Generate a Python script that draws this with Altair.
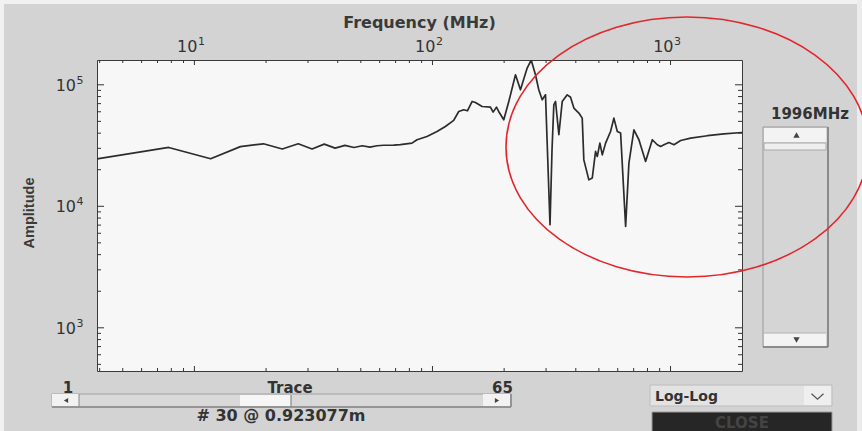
import altair as alt
import pandas as pd

# ---- spectrum of trace #30 (frequency in MHz, amplitude) ----
freq_mhz = [3.898, 7.8, 11.7, 15.6, 19.5, 23.4, 27.3, 31.2, 35.1, 39.0, 42.9, 46.8,
            50.7, 54.6, 58.5, 62.4, 68.7, 73.3, 82.0, 86.1, 94.8, 104.5, 113.3, 122.8,
            128.9, 135.3, 140.2, 146.8, 151.5, 161.7, 175.2, 179.8, 185.7, 189.7, 199.3,
            209.2, 223.2, 234.2, 249.9, 259.8, 270.8, 279.6, 289.0, 298.4, 311.7, 317.8,
            323.4, 328.8, 339.5, 350.8, 368.1, 380.2, 392.6, 412.1, 425.6, 432.3, 453.8,
            469.0, 484.2, 492.3, 504.9, 516.8, 533.6, 559.8, 578.1, 597.5, 617.0, 647.6,
            668.6, 701.7, 736.5, 785.7, 838.4, 880.0, 908.6, 938.1, 984.6, 1033.5,
            1102.7, 1214.6, 1427.9, 1677.2, 1996.0]
amplitude = [24600, 30500, 24600, 31000, 32700, 29600, 32700, 29600, 32500, 30100,
             31700, 30500, 31500, 30700, 31500, 31800, 31900, 32200, 33100, 35300,
             37500, 41300, 45400, 50900, 60300, 62300, 61100, 72900, 71500, 66300,
             65500, 59600, 65500, 60300, 51500, 72900, 120900, 91000, 137200, 160000,
             120900, 91000, 75300, 82700, 7040, 29200, 68400, 72900, 38800, 72900,
             82700, 78900, 64300, 58500, 53200, 24100, 16500, 17100, 28300, 25700,
             33100, 26500, 33100, 41300, 53200, 41300, 40100, 6820, 22700, 42600,
             35300, 23400, 35300, 32100, 31100, 32100, 33500, 32100, 34800, 36400,
             38100, 39500, 40500]

# ---- log-axis ticks ----
x_major = [10, 100, 1000]
x_major_exp = ["1", "2", "3"]
x_minor = [4, 5, 6, 7, 8, 9, 20, 30, 40, 50, 60, 70, 80, 90,
           200, 300, 400, 500, 600, 700, 800, 900]
y_major = [1000, 10000, 100000]
y_major_exp = ["3", "4", "5"]
y_minor = [500, 600, 700, 800, 900, 2000, 3000, 4000, 5000, 6000, 7000, 8000, 9000,
           20000, 30000, 40000, 50000, 60000, 70000, 80000, 90000]

# ---- window geometry ----
PAD_L, PAD_T, PAD_R, PAD_B = 97, 60, 120, 60
W, H = 645, 311
AX = "#333333"
TXT = "#333333"
GUI_FONT = "DejaVu Sans"

xs = alt.Scale(type="log", domain=[3.898, 1996], nice=False)
ys = alt.Scale(type="log", domain=[441, 160000], nice=False)

one = pd.DataFrame({"k": [0]})


def px(x):
    return alt.value(x - PAD_L)


def py(y):
    return alt.value(y - PAD_T)


def box(x0, y0, x1, y1, fill, stroke=None, sw=1.0):
    kw = {"fill": fill}
    if stroke:
        kw.update(stroke=stroke, strokeWidth=sw)
    return alt.Chart(one).mark_rect(**kw).encode(x=px(x0), x2=px(x1), y=py(y0), y2=py(y1))


def seg(x0, y0, x1, y1, color, sw=1.0):
    return alt.Chart(one).mark_rule(color=color, strokeWidth=sw).encode(
        x=px(x0), x2=px(x1), y=py(y0), y2=py(y1))


def label(text, x, y, size, align="center", weight="bold", color=TXT, font=GUI_FONT, angle=0):
    kw = dict(text=text, align=align, baseline="middle", fontSize=size,
              fontWeight=weight, font=font, color=color)
    if angle:
        kw["angle"] = angle
    return alt.Chart(one).mark_text(**kw).encode(x=px(x), y=py(y))


def glyph(shape, x, y, size, color="#444444", filled=True, sw=1.0):
    kw = dict(shape=shape, size=size, opacity=1)
    if filled:
        kw.update(filled=True, fill=color, strokeWidth=0)
    else:
        kw.update(filled=False, stroke=color, strokeWidth=sw)
    return alt.Chart(one).mark_point(**kw).encode(x=px(x), y=py(y))


# ---- plot content ----
spec = pd.DataFrame({"freq": freq_mhz, "amp": amplitude})
trace = alt.Chart(spec).mark_line(
    color="#2c2c2c", strokeWidth=1.7, strokeJoin="round", clip=True
).encode(
    x=alt.X("freq:Q", scale=xs, axis=None),
    y=alt.Y("amp:Q", scale=ys, axis=None),
)


def xticks(vals, length):
    df = pd.DataFrame({"freq": vals})
    enc_x = alt.X("freq:Q", scale=xs, axis=None)
    top = alt.Chart(df).mark_rule(color=AX).encode(x=enc_x, y=alt.value(0), y2=alt.value(length))
    bot = alt.Chart(df).mark_rule(color=AX).encode(x=enc_x, y=alt.value(H), y2=alt.value(H - length))
    return [top, bot]


def yticks(vals, length):
    df = pd.DataFrame({"amp": vals})
    enc_y = alt.Y("amp:Q", scale=ys, axis=None)
    left = alt.Chart(df).mark_rule(color=AX).encode(y=enc_y, x=alt.value(0), x2=alt.value(length))
    right = alt.Chart(df).mark_rule(color=AX).encode(y=enc_y, x=alt.value(W), x2=alt.value(W - length))
    return [left, right]


ticks = xticks(x_major, 5) + xticks(x_minor, 3) + yticks(y_major, 7) + yticks(y_minor, 4)

xl = pd.DataFrame({"freq": x_major, "exp": x_major_exp})
yl = pd.DataFrame({"amp": y_major, "exp": y_major_exp})
tick_font = dict(font=GUI_FONT, color=AX, baseline="middle")
x_base = alt.Chart(xl).mark_text(text="10", align="right", dx=3, fontSize=16, **tick_font).encode(
    x=alt.X("freq:Q", scale=xs, axis=None), y=alt.value(-13.5))
x_sup = alt.Chart(xl).mark_text(align="left", dx=3.5, fontSize=11, **tick_font).encode(
    x=alt.X("freq:Q", scale=xs, axis=None), y=alt.value(-18), text="exp:N")
y_base = alt.Chart(yl).mark_text(text="10", align="right", dy=1, fontSize=16, **tick_font).encode(
    y=alt.Y("amp:Q", scale=ys, axis=None), x=alt.value(-21))
y_sup = alt.Chart(yl).mark_text(align="left", dy=-4, fontSize=11, **tick_font).encode(
    y=alt.Y("amp:Q", scale=ys, axis=None), x=alt.value(-20.5), text="exp:N")

titles = [
    label("Frequency (MHz)", 419.5, 23, 16, color="#3a3a3a"),
    label("Amplitude", 30, 213, 14.5, weight="bold", font="Liberation Sans",
          color="#3a3a3a", angle=270),
]

# ---- window frame ----
frame = [
    box(0, 0, 862, 4, "#f1f1f1"),
    box(0, 0, 4, 431, "#f1f1f1"),
    box(857, 0, 862, 431, "#ececec"),
]

# ---- frequency scroll bar (right) ----
vscroll = [
    box(763, 127, 828, 347, "#d5d5d5", "#9a9a9a"),
    box(764, 128, 826, 142, "#f3f3f3"),
    box(764, 143, 826, 150, "#efefef", "#a8a8a8"),
    box(764, 333, 826, 346, "#f3f3f3"),
    seg(764, 333, 826, 333, "#b0b0b0"),
    seg(828, 127, 828, 347, "#7c7c7c", 1.5),
    seg(763, 347, 828, 347, "#7c7c7c", 1.5),
    glyph("triangle-up", 796.5, 135, 40),
    glyph("triangle-down", 796.5, 340, 40),
    label("1996MHz", 771, 114, 15, align="left"),
]

# ---- trace slider (bottom) ----
hscroll = [
    box(52, 394, 511, 407, "#d9d9d9", "#a0a0a0"),
    box(52, 394, 79, 406, "#f2f2f2"),
    box(240, 395, 291, 406, "#f6f6f6"),
    seg(291, 395, 291, 407, "#777777"),
    box(483, 394, 510, 406, "#f2f2f2"),
    seg(52, 407, 511, 407, "#888888", 1.5),
    seg(511, 394, 511, 407, "#888888", 1.5),
    seg(79, 394, 79, 407, "#888888"),
    glyph("triangle-left", 66, 400.5, 24),
    glyph("triangle-right", 497, 400.5, 24),
    label("1", 68, 387.5, 15),
    label("Trace", 290, 387.5, 15),
    label("65", 502.5, 387.5, 15),
    label("# 30 @ 0.923077m", 281, 416, 16),
]

# ---- scale selector and close button ----
controls = [
    box(650, 385, 832, 406, "#e3e3e3", "#bdbdbd"),
    box(804, 386, 831, 405, "#efefef"),
    glyph("M -1 -0.45 L 0 0.45 L 1 -0.45", 817.5, 396.5, 144, color="#555555",
          filled=False, sw=1.3),
    label("Log-Log", 655, 397, 14, align="left"),
    box(652, 412, 832, 434, "#262626", "#9a9a9a"),
    label("CLOSE", 742, 423, 15, color="#444444"),
]

# ---- highlight around the resonance band ----
ellipse = alt.Chart(one).mark_point(
    shape="M -1 0 A 1 0.718 0 1 1 1 0 A 1 0.718 0 1 1 -1 0 Z",
    size=362 ** 2, filled=False, stroke="#e3262b", strokeWidth=1.6, opacity=1,
).encode(x=px(687), y=py(147))

chart = alt.layer(
    *frame, trace, *ticks, x_base, x_sup, y_base, y_sup, *titles,
    *vscroll, *hscroll, *controls, ellipse,
).properties(
    width=W, height=H,
    padding={"left": PAD_L, "top": PAD_T, "right": PAD_R, "bottom": PAD_B},
    autosize=alt.AutoSizeParams(type="none"),
    background="#d3d3d3",
).configure_view(fill="#f7f7f7", stroke="#3a3a3a", strokeWidth=1)

chart.save("out.html", embed_options={"renderer": "svg", "actions": False})
